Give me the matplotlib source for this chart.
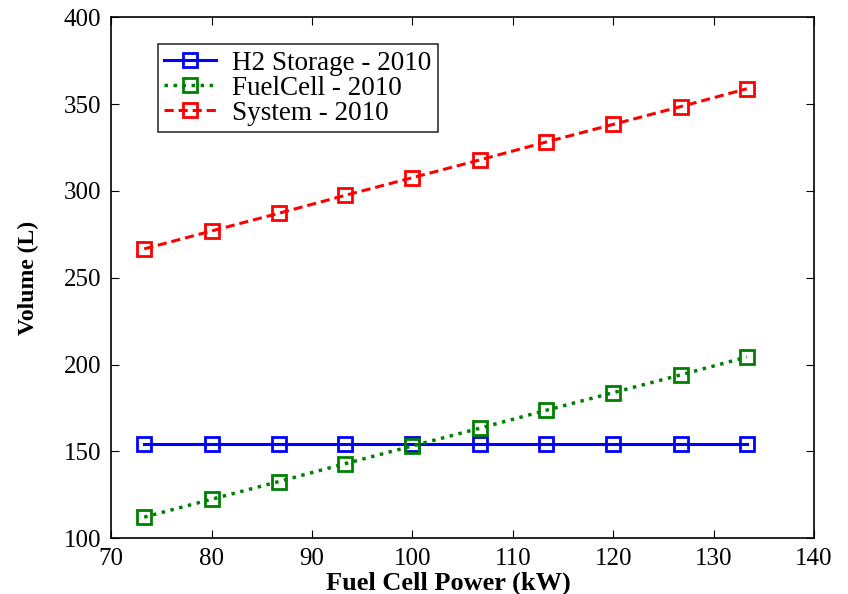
import matplotlib
matplotlib.use("Agg")
import matplotlib.pyplot as plt

# 연료전지 출력별 부피 (값은 그림에서 읽음)
power_kw = [73.3, 80.0, 86.7, 93.3, 100.0, 106.7, 113.3, 120.0, 126.7, 133.3]
h2_storage = [154.5, 154.5, 154.5, 154.5, 154.5, 154.5, 154.5, 154.5, 154.5, 154.5]
fuel_cell = [112.1, 122.4, 132.6, 142.9, 153.1, 163.3, 173.6, 183.8, 194.0, 204.3]
system = [266.6, 276.9, 287.1, 297.4, 307.6, 317.8, 328.1, 338.3, 348.5, 358.8]

x_ticks = [70, 80, 90, 100, 110, 120, 130, 140]
y_ticks = [100, 150, 200, 250, 300, 350, 400]

plt.rcParams["font.family"] = ["Liberation Serif", "DejaVu Serif"]

fig = plt.figure(figsize=(8.48, 5.94), dpi=100)
ax = fig.add_axes([0.131, 0.094, 0.829, 0.877])

mk = dict(marker="s", markersize=9.5, markerfacecolor="none", markeredgewidth=2)
ax.plot(power_kw, h2_storage, color="#0000ff", linestyle="-", linewidth=2.2,
        label="H2 Storage - 2010", **mk)
ax.plot(power_kw, fuel_cell, color="#008000", linestyle=(0, (1, 1.6)), linewidth=2.5,
        label="FuelCell - 2010", **mk)
ax.plot(power_kw, system, color="#ff0000", linestyle=(0, (3, 1.6)), linewidth=2.2,
        label="System - 2010", **mk)

ax.set_xlim(70, 140)
ax.set_ylim(100, 400)
ax.set_xticks(x_ticks)
ax.set_yticks(y_ticks)
ax.tick_params(direction="in", top=True, right=True, labelsize=18, length=6, pad=7)
for s in ax.spines.values():
    s.set_linewidth(1.2)

ax.set_xlabel("Fuel Cell Power (kW)", fontsize=19, fontweight="bold", labelpad=1)
ax.xaxis.label.set_x(0.48)
ax.set_ylabel("Volume (L)", fontsize=17, fontweight="bold", labelpad=18)

# 범례: 원본처럼 글자 간격이 넓은 상자 — 오른쪽 여백은 handletextpad 로 보정
leg = ax.legend(loc="upper left", bbox_to_anchor=(0.047, 0.975), fontsize=19.5,
                frameon=True, fancybox=False, edgecolor="black",
                handlelength=1.9, borderpad=0.25, labelspacing=0.0, handletextpad=0.6)
leg.get_frame().set_linewidth(1.2)

plt.savefig("out.png", dpi=100)
